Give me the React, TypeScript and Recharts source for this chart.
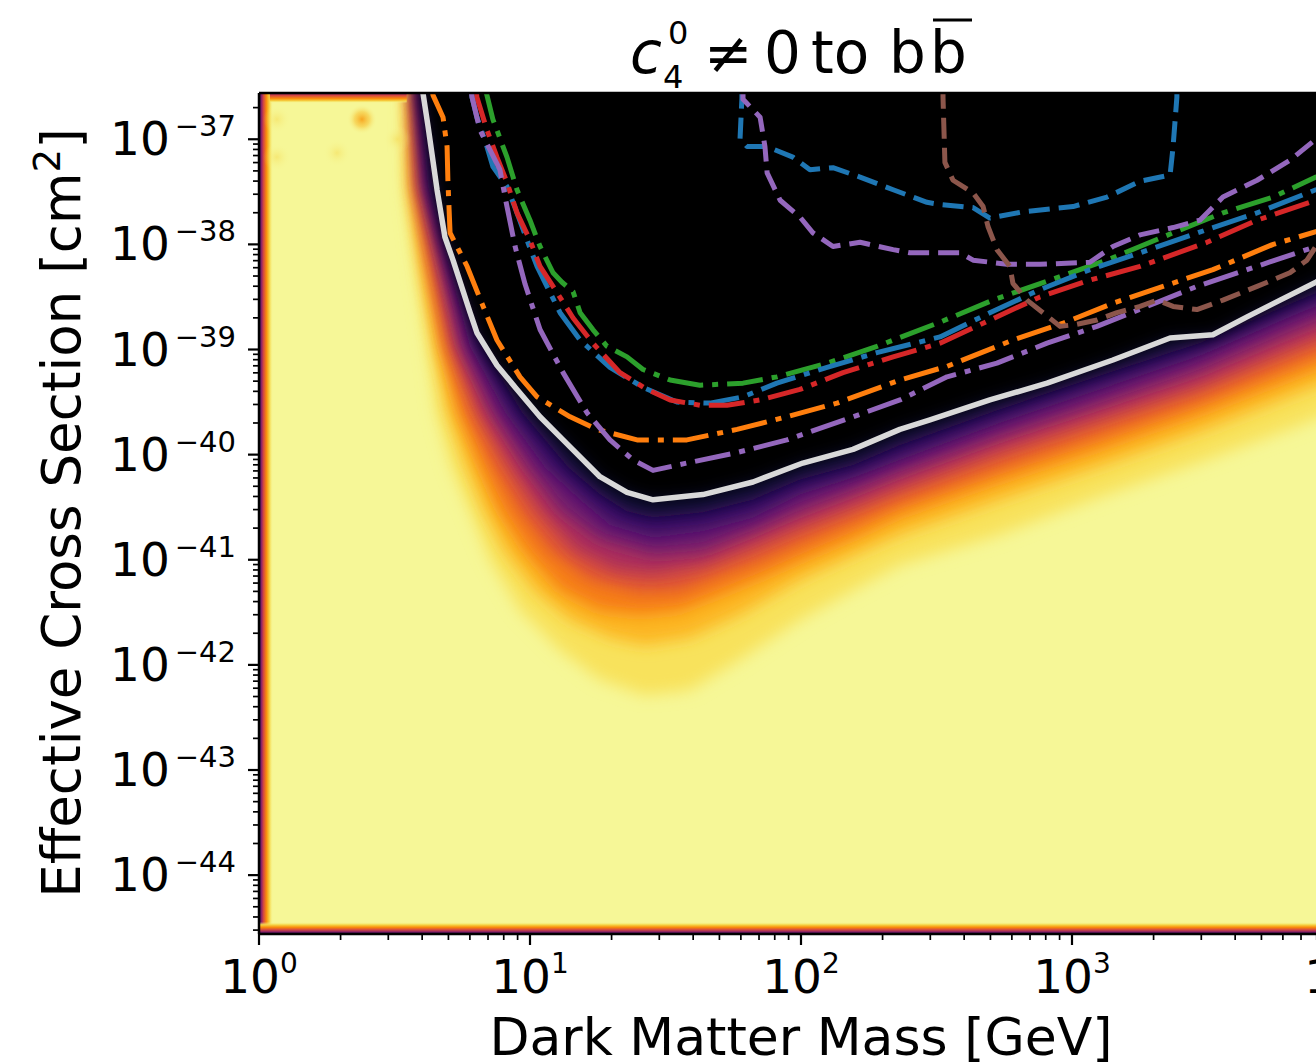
import React from 'react';
import {
  ComposedChart,
  Area,
  Line,
  XAxis,
  YAxis,
  ReferenceArea,
  ReferenceLine,
  Scatter,
  CartesianGrid,
} from 'recharts';

type P = [number, number]; // [log10 mass (GeV), log10 cross section (cm^2)]

// ---------- axes (log10 units) ----------
const X_RANGE_EXP: P = [0, 4];
const Y_RANGE_EXP: P = [-44.56, -36.56];
const X_MAJOR_EXP = [0, 1, 2, 3, 4];
const Y_MAJOR_EXP = [-45, -44, -43, -42, -41, -40, -39, -38, -37];
const MINOR_MULT = [2, 3, 4, 5, 6, 7, 8, 9];

// ---------- heat-map level boundaries (colour bands below the white limit) ----------
const K1: P[] = [[0.595,-36.40],[0.598,-36.56],[0.638,-37.45],[0.723,-38.21],[0.823,-38.97],[0.970,-39.60],[1.140,-40.12],[1.258,-40.38],[1.358,-40.54],[1.454,-40.60],[1.638,-40.55],[1.823,-40.43],[1.996,-40.24],[2.192,-40.10],[2.365,-39.91],[2.734,-39.57],[3.103,-39.25],[3.472,-38.94],[3.841,-38.53],[4.000,-38.36]];
const K2: P[] = [[0.587,-36.40],[0.590,-36.56],[0.624,-37.45],[0.701,-38.21],[0.779,-38.97],[0.908,-39.60],[1.055,-40.12],[1.185,-40.43],[1.295,-40.67],[1.454,-40.79],[1.638,-40.73],[1.823,-40.60],[1.996,-40.38],[2.192,-40.22],[2.365,-40.05],[2.734,-39.70],[3.103,-39.38],[3.472,-39.06],[3.841,-38.65],[4.000,-38.49]];
const K3: P[] = [[0.580,-36.40],[0.583,-36.56],[0.609,-37.45],[0.679,-38.21],[0.749,-38.97],[0.863,-39.60],[0.993,-40.12],[1.111,-40.53],[1.258,-40.81],[1.454,-40.95],[1.638,-40.91],[1.823,-40.72],[1.996,-40.53],[2.192,-40.34],[2.365,-40.16],[2.734,-39.82],[3.103,-39.51],[3.472,-39.19],[3.841,-38.79],[4.000,-38.63]];
const K4: P[] = [[0.573,-36.40],[0.576,-36.56],[0.594,-37.45],[0.661,-38.21],[0.723,-38.97],[0.819,-39.60],[0.934,-40.12],[1.037,-40.53],[1.166,-40.91],[1.314,-41.10],[1.454,-41.14],[1.638,-41.05],[1.823,-40.86],[1.996,-40.67],[2.192,-40.48],[2.365,-40.30],[2.734,-39.95],[3.103,-39.64],[3.472,-39.33],[3.841,-38.94],[4.000,-38.78]];
const K5: P[] = [[0.565,-36.40],[0.568,-36.56],[0.583,-37.45],[0.638,-38.21],[0.697,-38.97],[0.779,-39.60],[0.875,-40.12],[0.963,-40.53],[1.074,-40.91],[1.221,-41.19],[1.406,-41.31],[1.554,-41.29],[1.701,-41.14],[1.849,-41.00],[1.996,-40.83],[2.192,-40.62],[2.365,-40.43],[2.734,-40.10],[3.103,-39.78],[3.472,-39.46],[3.841,-39.08],[4.000,-38.92]];
const K6: P[] = [[0.558,-36.40],[0.561,-36.56],[0.572,-37.45],[0.620,-38.21],[0.675,-38.97],[0.738,-39.60],[0.819,-40.12],[0.889,-40.53],[0.982,-40.91],[1.111,-41.29],[1.258,-41.48],[1.406,-41.52],[1.554,-41.48],[1.701,-41.33],[1.849,-41.17],[1.996,-41.00],[2.192,-40.78],[2.365,-40.57],[2.734,-40.24],[3.103,-39.93],[3.472,-39.60],[3.841,-39.23],[4.000,-39.07]];
const K7: P[] = [[0.551,-36.40],[0.554,-36.56],[0.561,-37.45],[0.605,-38.21],[0.653,-38.97],[0.701,-39.60],[0.771,-40.12],[0.834,-40.53],[0.908,-40.91],[1.018,-41.29],[1.148,-41.57],[1.295,-41.74],[1.424,-41.81],[1.590,-41.74],[1.775,-41.52],[1.996,-41.19],[2.192,-40.96],[2.365,-40.76],[2.734,-40.43],[3.103,-40.11],[3.472,-39.78],[3.841,-39.41],[4.000,-39.25]];
const K8: P[] = [[0.539,-36.40],[0.542,-36.56],[0.546,-37.45],[0.583,-38.21],[0.624,-38.97],[0.657,-39.60],[0.712,-40.12],[0.779,-40.53],[0.852,-41.00],[0.963,-41.48],[1.111,-41.86],[1.258,-42.14],[1.424,-42.29],[1.590,-42.24],[1.775,-41.95],[1.996,-41.57],[2.192,-41.29],[2.365,-41.05],[2.734,-40.76],[3.103,-40.40],[3.472,-40.07],[3.841,-39.72],[4.000,-39.55]];

// ---------- contour lines ----------
const WHITE: P[] = [[0.600,-36.40],[0.605,-36.56],[0.624,-36.88],[0.657,-37.48],[0.686,-37.93],[0.716,-38.15],[0.779,-38.65],[0.804,-38.84],[0.878,-39.15],[0.952,-39.38],[1.037,-39.64],[1.122,-39.86],[1.258,-40.21],[1.358,-40.36],[1.454,-40.43],[1.638,-40.38],[1.823,-40.26],[2.007,-40.08],[2.192,-39.95],[2.365,-39.76],[2.476,-39.67],[2.697,-39.48],[2.908,-39.32],[3.151,-39.10],[3.362,-38.89],[3.520,-38.86],[3.646,-38.69],[3.768,-38.53],[3.900,-38.36],[4.000,-38.22]];
const GREEN_DD: P[] = [[0.834,-36.51],[0.841,-36.58],[0.863,-36.81],[0.915,-37.17],[0.952,-37.48],[1.000,-37.77],[1.037,-38.02],[1.085,-38.27],[1.118,-38.36],[1.159,-38.45],[1.185,-38.65],[1.232,-38.81],[1.284,-38.97],[1.358,-39.07],[1.417,-39.19],[1.517,-39.29],[1.627,-39.34],[1.786,-39.32],[1.911,-39.26],[2.096,-39.13],[2.280,-38.97],[2.513,-38.74],[2.708,-38.53],[2.919,-38.34],[3.129,-38.15],[3.373,-37.89],[3.557,-37.70],[3.742,-37.55],[3.900,-37.36],[4.000,-37.26]];
const BLUE_DD: P[] = [[0.782,-36.51],[0.786,-36.60],[0.804,-36.79],[0.841,-37.07],[0.863,-37.26],[0.915,-37.45],[0.952,-37.70],[0.989,-37.96],[1.026,-38.21],[1.111,-38.65],[1.185,-38.91],[1.295,-39.17],[1.417,-39.36],[1.542,-39.50],[1.664,-39.51],[1.786,-39.45],[1.911,-39.32],[2.096,-39.17],[2.280,-39.03],[2.513,-38.88],[2.697,-38.65],[2.882,-38.43],[3.066,-38.24],[3.251,-38.08],[3.498,-37.86],[3.683,-37.70],[3.900,-37.48],[4.000,-37.39]];
const RED_DD: P[] = [[0.801,-36.51],[0.804,-36.60],[0.841,-36.91],[0.878,-37.17],[0.915,-37.41],[0.952,-37.70],[1.000,-37.96],[1.037,-38.21],[1.100,-38.46],[1.159,-38.70],[1.232,-38.94],[1.332,-39.22],[1.432,-39.38],[1.517,-39.48],[1.627,-39.53],[1.727,-39.53],[1.849,-39.48],[1.996,-39.38],[2.155,-39.22],[2.340,-39.07],[2.513,-38.94],[2.697,-38.72],[2.882,-38.50],[3.066,-38.34],[3.251,-38.21],[3.498,-37.98],[3.683,-37.77],[3.900,-37.58],[4.000,-37.48]];
const ORANGE_DD: P[] = [[0.638,-36.51],[0.642,-36.58],[0.679,-36.79],[0.694,-37.07],[0.697,-37.39],[0.705,-37.89],[0.768,-38.21],[0.827,-38.59],[0.878,-38.91],[0.963,-39.26],[1.026,-39.45],[1.148,-39.64],[1.247,-39.76],[1.395,-39.86],[1.579,-39.86],[1.764,-39.76],[1.948,-39.64],[2.133,-39.51],[2.365,-39.29],[2.539,-39.16],[2.782,-38.91],[2.967,-38.75],[3.151,-38.56],[3.336,-38.40],[3.520,-38.24],[3.742,-38.00],[3.900,-37.88],[4.000,-37.78]];
const PURPLE_DD: P[] = [[0.782,-36.51],[0.786,-36.60],[0.815,-36.91],[0.889,-37.29],[0.915,-37.64],[0.945,-38.02],[0.982,-38.38],[1.037,-38.81],[1.122,-39.22],[1.210,-39.60],[1.295,-39.86],[1.380,-40.05],[1.454,-40.15],[1.579,-40.08],[1.764,-39.98],[1.948,-39.86],[2.192,-39.64],[2.365,-39.48],[2.539,-39.26],[2.723,-39.13],[2.908,-38.94],[3.092,-38.78],[3.277,-38.59],[3.461,-38.40],[3.646,-38.24],[3.900,-38.02],[4.000,-37.93]];
const BLUE_DASH: P[] = [[1.782,-36.51],[1.782,-36.61],[1.775,-37.00],[1.801,-37.07],[1.875,-37.07],[1.970,-37.17],[2.033,-37.29],[2.118,-37.27],[2.218,-37.36],[2.340,-37.48],[2.465,-37.60],[2.513,-37.62],[2.635,-37.65],[2.697,-37.75],[2.819,-37.69],[3.004,-37.64],[3.129,-37.55],[3.251,-37.40],[3.362,-37.34],[3.373,-37.07],[3.387,-36.60],[3.387,-36.51]];
const PURPLE_DASH: P[] = [[1.786,-36.51],[1.786,-36.62],[1.849,-36.79],[1.867,-37.07],[1.875,-37.32],[1.923,-37.58],[1.996,-37.74],[2.044,-37.89],[2.118,-38.02],[2.218,-37.98],[2.340,-38.05],[2.402,-38.08],[2.587,-38.08],[2.635,-38.15],[2.760,-38.19],[2.882,-38.19],[3.066,-38.17],[3.151,-38.02],[3.251,-37.91],[3.373,-37.84],[3.472,-37.77],[3.557,-37.55],[3.683,-37.39],[3.804,-37.20],[3.900,-37.00],[4.000,-36.83]];
const BROWN_DASH: P[] = [[2.524,-36.51],[2.524,-36.60],[2.531,-37.22],[2.561,-37.39],[2.635,-37.51],[2.672,-37.64],[2.690,-37.83],[2.723,-38.05],[2.771,-38.21],[2.782,-38.37],[2.834,-38.53],[2.893,-38.65],[2.956,-38.78],[3.018,-38.76],[3.092,-38.72],[3.166,-38.65],[3.251,-38.59],[3.314,-38.53],[3.373,-38.59],[3.461,-38.62],[3.557,-38.53],[3.683,-38.40],[3.804,-38.27],[3.867,-38.15],[3.900,-38.02],[4.000,-37.81]];

// faint interpolation blotches in the low-mass region
const SPOTS_STRONG: P[] = [[0.380,-36.81]];
const SPOTS_FAINT: P[] = [[0.066,-36.81],[0.066,-37.17],[0.288,-37.13],[0.510,-37.00]];

// ---------- colours ----------
const PALE = '#f6f797';
const HEAT_LEVELS: { pts: P[]; fill: string }[] = [
  { pts: K8, fill: '#f8e25c' },
  { pts: K7, fill: '#fcb622' },
  { pts: K6, fill: '#f67d15' },
  { pts: K5, fill: '#dc5138' },
  { pts: K4, fill: '#ab2e5c' },
  { pts: K3, fill: '#6e1a6e' },
  { pts: K2, fill: '#3e0c68' },
  { pts: K1, fill: '#0e0830' },
  { pts: WHITE, fill: '#000004' },
];

const DASHDOT = '36 9 6 9';
const DASHED = '21 9';
const LINES: { pts: P[]; color: string; dash?: string; width: number }[] = [
  { pts: GREEN_DD, color: '#2ca02c', dash: DASHDOT, width: 5 },
  { pts: BLUE_DD, color: '#1f77b4', dash: DASHDOT, width: 5 },
  { pts: RED_DD, color: '#d62728', dash: DASHDOT, width: 5 },
  { pts: ORANGE_DD, color: '#ff7f0e', dash: DASHDOT, width: 5 },
  { pts: PURPLE_DD, color: '#9467bd', dash: DASHDOT, width: 5 },
  { pts: BLUE_DASH, color: '#1f77b4', dash: DASHED, width: 5 },
  { pts: PURPLE_DASH, color: '#9467bd', dash: DASHED, width: 5 },
  { pts: BROWN_DASH, color: '#8c564b', dash: DASHED, width: 5 },
  { pts: WHITE, color: '#d9d9d9', width: 5.5 },
];

const pw = (e: number) => Math.pow(10, e);
const toPts = (arr: P[]) => arr.map(([lx, ly]) => ({ x: pw(lx), y: pw(ly) }));

const X_DOMAIN: [number, number] = [pw(X_RANGE_EXP[0]), pw(X_RANGE_EXP[1])];
const Y_DOMAIN: [number, number] = [pw(Y_RANGE_EXP[0]), pw(Y_RANGE_EXP[1])];
const AREA_TOP = pw(-35);

const X_TICKS: number[] = [];
X_MAJOR_EXP.forEach((e) => {
  X_TICKS.push(pw(e));
  if (e < X_RANGE_EXP[1]) MINOR_MULT.forEach((m) => X_TICKS.push(m * pw(e)));
});
const Y_TICKS: number[] = [];
Y_MAJOR_EXP.forEach((e) => {
  [1, ...MINOR_MULT].forEach((m) => {
    const v = m * pw(e);
    if (v >= Y_DOMAIN[0] * (1 - 1e-9) && v <= Y_DOMAIN[1] * (1 + 1e-9)) Y_TICKS.push(v);
  });
});

const FONT = 'DejaVu Sans';

const isMajor = (v: number) => {
  const e = Math.log10(v);
  return Math.abs(e - Math.round(e)) < 1e-6;
};

const fmtExp = (v: number) => {
  const e = Math.round(Math.log10(v));
  return e < 0 ? '\u2212' + Math.abs(e) : String(e);
};

const XTick = (props: any) => {
  const { x, y, payload } = props;
  const v = payload.value;
  const major = isMajor(v);
  return (
    <g>
      <line x1={x} x2={x} y1={y} y2={y + (major ? 11 : 6)} stroke="#000" strokeWidth={major ? 2.2 : 1.7} />
      {major && (
        <text x={x} y={y + 59} textAnchor="middle" fontFamily={FONT} fontSize={47} fill="#000">
          10
          <tspan fontSize={28} dy={-20}>
            {fmtExp(v)}
          </tspan>
        </text>
      )}
    </g>
  );
};

const YTick = (props: any) => {
  const { x, y, payload } = props;
  const v = payload.value;
  const major = isMajor(v);
  return (
    <g>
      <line x1={x - (major ? 11 : 6)} x2={x} y1={y} y2={y} stroke="#000" strokeWidth={major ? 2.2 : 1.7} />
      {major && (
        <text x={x - 23} y={y + 16} textAnchor="end" fontFamily={FONT} fontSize={47} fill="#000">
          10
          <tspan fontSize={29} dy={-19} dx={5}>
            {fmtExp(v)}
          </tspan>
        </text>
      )}
    </g>
  );
};

const SpotShape = (strong: boolean) => (p: any) => (
  <circle cx={p.cx} cy={p.cy} r={strong ? 15 : 14} fill={strong ? 'url(#spotStrong)' : 'url(#spotFaint)'} />
);

export default function App() {
  return (
    <div
      style={{
        position: 'absolute',
        left: 0,
        top: 0,
        width: 1316,
        height: 1063,
        overflow: 'hidden',
        background: '#ffffff',
      }}
    >
      <style>{`.recharts-area path { filter: url(#heatBlur); }`}</style>
      <svg width={0} height={0} style={{ position: 'absolute' }}>
        <defs>
          <filter id="heatBlur" x="-5%" y="-5%" width="110%" height="110%">
            <feGaussianBlur stdDeviation="8" />
          </filter>
          <linearGradient id="leftEdge" x1="0" y1="0" x2="1" y2="0">
            <stop offset="0" stopColor="#1a0b40" />
            <stop offset="0.15" stopColor="#7d1d6c" />
            <stop offset="0.32" stopColor="#d54841" />
            <stop offset="0.52" stopColor="#f98b0b" />
            <stop offset="0.74" stopColor="#f5d444" />
            <stop offset="1" stopColor={PALE} stopOpacity={0} />
          </linearGradient>
          <linearGradient id="bottomEdge" x1="0" y1="1" x2="0" y2="0">
            <stop offset="0" stopColor="#1a0b40" />
            <stop offset="0.15" stopColor="#7d1d6c" />
            <stop offset="0.35" stopColor="#d54841" />
            <stop offset="0.55" stopColor="#f98b0b" />
            <stop offset="0.76" stopColor="#f5d444" />
            <stop offset="1" stopColor={PALE} stopOpacity={0} />
          </linearGradient>
          <linearGradient id="topEdge" x1="0" y1="0" x2="0" y2="1">
            <stop offset="0" stopColor="#8a2266" />
            <stop offset="0.25" stopColor="#d54841" />
            <stop offset="0.55" stopColor="#f98b0b" />
            <stop offset="0.8" stopColor="#f5d444" />
            <stop offset="1" stopColor={PALE} stopOpacity={0} />
          </linearGradient>
          <radialGradient id="spotStrong">
            <stop offset="0" stopColor="#f7a21b" stopOpacity={0.95} />
            <stop offset="0.5" stopColor="#f7c53a" stopOpacity={0.6} />
            <stop offset="1" stopColor={PALE} stopOpacity={0} />
          </radialGradient>
          <radialGradient id="spotFaint">
            <stop offset="0" stopColor="#f5d64a" stopOpacity={0.45} />
            <stop offset="1" stopColor={PALE} stopOpacity={0} />
          </radialGradient>
        </defs>
      </svg>

      <ComposedChart width={1400} height={1063} margin={{ top: 93, right: 57, bottom: 0, left: 0 }}>
        <CartesianGrid horizontal={false} vertical={false} fill={PALE} stroke="none" />
        <XAxis
          dataKey="x"
          type="number"
          scale="log"
          domain={X_DOMAIN}
          allowDataOverflow
          ticks={X_TICKS}
          interval={0}
          height={129}
          tickLine={false}
          tickSize={0}
          tickMargin={0}
          tick={<XTick />}
          axisLine={{ stroke: '#000', strokeWidth: 2.5 }}
        />
        <YAxis
          dataKey="y"
          type="number"
          scale="log"
          domain={Y_DOMAIN}
          allowDataOverflow
          ticks={Y_TICKS}
          interval={0}
          width={259}
          tickLine={false}
          tickSize={0}
          tickMargin={0}
          tick={<YTick />}
          axisLine={{ stroke: '#000', strokeWidth: 2.5 }}
        />

        {HEAT_LEVELS.map((lvl, i) => (
          <Area
            key={'heat' + i}
            className="heat"
            data={toPts(lvl.pts)}
            dataKey="y"
            type="linear"
            baseValue={AREA_TOP}
            fill={lvl.fill}
            fillOpacity={1}
            stroke="none"
            dot={false}
            activeDot={false}
            isAnimationActive={false}
          />
        ))}

        <ReferenceArea x1={1} x2={pw(0.052)} y1={Y_DOMAIN[0]} y2={Y_DOMAIN[1]} fill="url(#leftEdge)" fillOpacity={1} stroke="none" />
        <ReferenceArea x1={1} x2={X_DOMAIN[1]} y1={Y_DOMAIN[0]} y2={pw(-44.445)} fill="url(#bottomEdge)" fillOpacity={1} stroke="none" />
        <ReferenceArea x1={pw(0.04)} x2={pw(0.545)} y1={pw(-36.655)} y2={Y_DOMAIN[1]} fill="url(#topEdge)" fillOpacity={1} stroke="none" />

        <Scatter data={toPts(SPOTS_FAINT)} dataKey="y" shape={SpotShape(false)} isAnimationActive={false} />
        <Scatter data={toPts(SPOTS_STRONG)} dataKey="y" shape={SpotShape(true)} isAnimationActive={false} />

        {LINES.map((l, i) => (
          <Line
            key={'line' + i}
            data={toPts(l.pts)}
            dataKey="y"
            type="linear"
            stroke={l.color}
            strokeWidth={l.width}
            strokeDasharray={l.dash}
            strokeLinejoin="round"
            dot={false}
            activeDot={false}
            isAnimationActive={false}
          />
        ))}

        <ReferenceLine y={Y_DOMAIN[1]} stroke="#000" strokeWidth={2.5} />
        <ReferenceLine x={X_DOMAIN[1]} stroke="#000" strokeWidth={2.5} />
      </ComposedChart>

      <svg
        width={1316}
        height={1063}
        style={{ position: 'absolute', left: 0, top: 0, pointerEvents: 'none' }}
      >
        <text fontFamily={FONT} fill="#000">
          <tspan x={630} y={73} fontSize={58} fontStyle="italic">c</tspan>
          <tspan x={668} y={44} fontSize={32}>0</tspan>
          <tspan x={663} y={88} fontSize={32}>4</tspan>
          <tspan x={704} y={73} fontSize={58}>≠</tspan>
          <tspan x={764} y={73} fontSize={58}>0</tspan>
          <tspan x={811} y={73} fontSize={58}>to</tspan>
          <tspan x={889} y={73} fontSize={58}>b</tspan>
          <tspan x={930} y={73} fontSize={58}>b</tspan>
        </text>
        <line x1={933} x2={972} y1={20} y2={20} stroke="#000" strokeWidth={3} />

        <text x={801} y={1055} textAnchor="middle" fontFamily={FONT} fontSize={52} fill="#000">
          Dark Matter Mass [GeV]
        </text>
        <text
          transform="translate(80,513) rotate(-90)"
          x={0}
          y={0}
          textAnchor="middle"
          fontFamily={FONT}
          fontSize={53}
          fill="#000"
        >
          Effective Cross Section [cm
          <tspan fontSize={37} dy={-20}>2</tspan>
          <tspan dy={20}>]</tspan>
        </text>
      </svg>
    </div>
  );
}
